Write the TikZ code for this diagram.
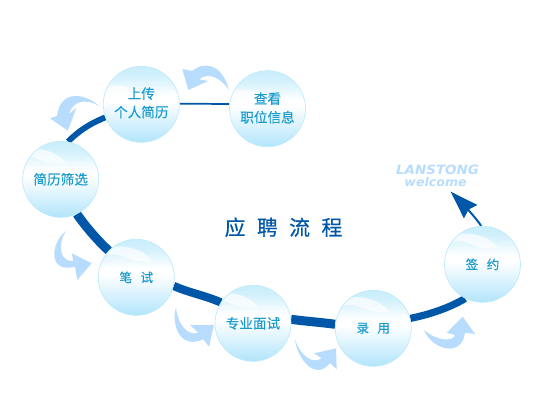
\documentclass[tikz,border=0pt]{standalone}
\usepackage{fontspec}
\setmainfont[FakeBold=0.3]{Noto Sans CJK SC}
\newfontfamily\titlefont[FakeBold=0.6]{Noto Sans CJK SC}
\newfontfamily\logofont[FakeStretch=1.05]{DejaVu Sans}
\usetikzlibrary{arrows.meta,backgrounds}
\definecolor{linkblue}{HTML}{0057A8}
\definecolor{curlblue}{HTML}{B8DCFD}
\definecolor{labelblue}{HTML}{1B9CCF}
\definecolor{rimblue}{HTML}{BDEAFB}
\pgfdeclareverticalshading{spherefill}{100bp}{
  color(0bp)=(rgb,255:red,178;green,229;blue,251);
  color(25bp)=(rgb,255:red,178;green,229;blue,251);
  color(52bp)=(rgb,255:red,255;green,255;blue,255);
  color(56bp)=(rgb,255:red,255;green,255;blue,255);
  color(68bp)=(rgb,255:red,212;green,241;blue,252);
  color(75bp)=(rgb,255:red,200;green,238;blue,251);
  color(100bp)=(rgb,255:red,200;green,238;blue,251)}
\tikzset{
  sphere/.style={circle,minimum size=57pt,inner sep=0pt,shade,shading=spherefill,draw=rimblue,line width=.5pt,
    text=labelblue,align=center,font=\fontsize{10.2pt}{14.3pt}\selectfont,
    path picture={\fill[white,opacity=.7,shift={(path picture bounding box.center)}]
      (-23pt,17.5pt) .. controls (-13pt,30pt) and (15pt,30pt) .. (24.5pt,15.5pt)
      .. controls (17pt,15pt) and (9pt,16pt) .. (1pt,20pt)
      .. controls (-6pt,22pt) and (-14pt,20pt) .. (-23pt,17.5pt) -- cycle;}},
  smalllabel/.style={font=\fontsize{9.4pt}{12pt}\selectfont},
  link/.style={draw=linkblue,line cap=butt},
  curl/.style={fill=curlblue,draw=none},
  logotext/.style={text=curlblue,inner sep=0pt}
}
\begin{document}
\begin{tikzpicture}[x=.75pt,y=-.75pt]
\path[use as bounding box] (0,0) rectangle (540,406);
\node[sphere] (look) at (267.5,108.7) {\raisebox{2pt}{\shortstack{查看\\[1.5pt]职位信息}}};
\node[sphere] (upload) at (141.3,104.3) {\raisebox{3pt}{\shortstack{上传\\[1.5pt]个人简历}}};
\node[sphere] (screen) at (60.7,179.3) {简历筛选};
\node[sphere,smalllabel] (written) at (136.3,277.3) {笔\hspace{6.4pt}试};
\node[sphere] (interview) at (253,323.3) {专业面试};
\node[sphere,smalllabel] (hire) at (373.3,328.3) {录\hspace{6.4pt}用};
\node[sphere,smalllabel] (sign) at (482.5,264.3) {签\hspace{6.4pt}约};
\node[text=linkblue,inner sep=0pt,font=\titlefont\fontsize{15.6pt}{18pt}\selectfont] (title) at (283.5,227.3) {应\hspace{8.6pt}聘\hspace{8.6pt}流\hspace{8.6pt}程};
\node[logotext,font=\logofont\bfseries\itshape\fontsize{9.6pt}{11pt}\selectfont] (brand) at (437.5,169.7) {LANSTONG};
\node[logotext,font=\logofont\bfseries\itshape\fontsize{9pt}{11pt}\selectfont] (welcome) at (435.6,182) {welcome};
\coordinate (goal) at (450.7,191.7);
\begin{scope}[on background layer]
  % connectors
  \draw[link,line width=1.3pt] (look.173) -- (upload.1);
  \draw[link,line width=4.4pt] (upload.200) .. controls +(-15,6) and +(11,-11) .. (screen.79);
  \draw[link,line width=6.8pt] (screen.295) .. controls +(9,13) and +(-10,-9) .. (written.136);
  \draw[link,line width=6.2pt] (written.-13) .. controls +(16,7) and +(-16,-7) .. (interview.147);
  \draw[link,line width=6.8pt] (interview.6) .. controls +(14,2) and +(-14,-2) .. (hire.174);
  \draw[link,line width=5.4pt] (hire.15) .. controls +(20,-4) and +(-15,9) .. (sign.243);
  \draw[draw=linkblue,line width=1.5pt,-{Stealth[length=21pt,width=14pt,inset=2pt]}] (sign.92) .. controls +(-4,-7) and +(8,8) .. (goal);
  % curved light arrows
  \fill[curl] (182.3,69) -- (192.3,71) .. controls (203,61) and (222,63) .. (229,90)
    .. controls (220,77) and (208,72) .. (199,79.3) -- (208.3,81) -- (188.3,90) -- cycle;
  \fill[curl] (100,106.7) .. controls (84,92) and (60,90) .. (57,116) -- (50,118.3) -- (67.7,130.7) -- (76.5,108) -- (69,114)
    .. controls (72,102) and (85,97) .. (100,106.7) -- cycle;
  \fill[curl] (66,231) .. controls (50,243) and (48,274) .. (75,266.7) -- (77.3,280) -- (91.7,263.3) -- (71.7,253.3) -- (73.3,261)
    .. controls (60,262) and (57,245) .. (66,231) -- cycle;
  \fill[curl] (176,307.3) .. controls (171,325) and (180,350) .. (203.3,339.3) -- (209,346.7) -- (214,325) -- (190,325) -- (198.3,332.7)
    .. controls (187,337) and (177,322) .. (176,307.3) -- cycle;
  \fill[curl] (295,339.3) .. controls (297,358) and (315,382) .. (330,363) -- (336.7,369.3) -- (336,348.3) -- (314,353.3) -- (321.7,358.3)
    .. controls (312,365) and (300,355) .. (295,339.3) -- cycle;
  \fill[curl] (424,330) .. controls (432,350) and (462,358) .. (465,332.7) -- (475,334) -- (462.7,316.7) -- (446.7,332.7) -- (455,335)
    .. controls (453,342) and (437,341) .. (424,330) -- cycle;
\end{scope}
\end{tikzpicture}
\end{document}
